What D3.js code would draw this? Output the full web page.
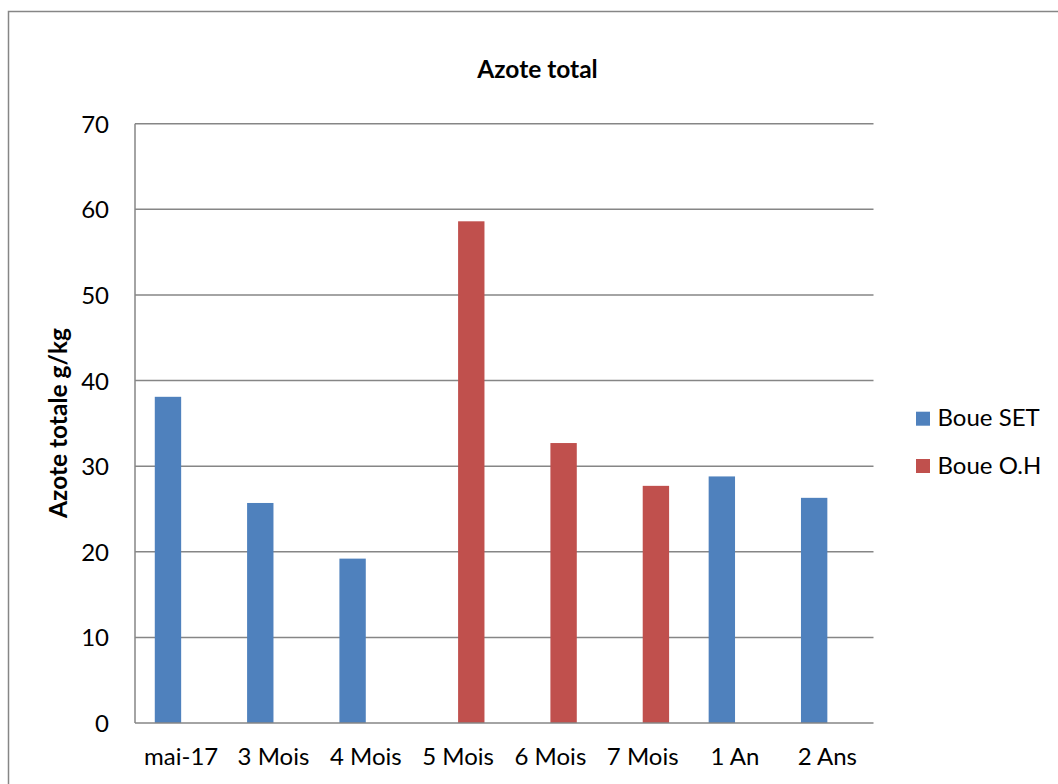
<!DOCTYPE html>
<html>
<head>
<meta charset="utf-8">
<script src="https://cdn.jsdelivr.net/npm/d3@7"></script>
<style>
  html, body { margin: 0; padding: 0; background: #ffffff; }
  svg { display: block; }
  text { font-family: Lato, "Open Sans", sans-serif; fill: #000; }
</style>
</head>
<body>
<script>
// ---- data ----
const categories = ["mai-17", "3 Mois", "4 Mois", "5 Mois", "6 Mois", "7 Mois", "1 An", "2 Ans"];
const seriesNames = ["Boue SET", "Boue O.H"];
const bouesSET = [38.1, 25.7, 19.2, null, null, null, 28.8, 26.3];
const bouesOH  = [null, null, null, 58.6, 32.7, 27.7, null, null];
const yTicks = [0, 10, 20, 30, 40, 50, 60, 70];
const chartTitle = "Azote total";
const yAxisTitle = "Azote totale g/kg";
const colors = ["#4F81BD", "#C0504D"];

const W = 1058, H = 784;
const svg = d3.select("body").append("svg").attr("width", W).attr("height", H);

// outer chart border
svg.append("rect")
  .attr("x", 8.5).attr("y", 11.5)
  .attr("width", 1100).attr("height", 900)
  .attr("fill", "none").attr("stroke", "#868686").attr("stroke-width", 1.5);

const plot = { left: 135, right: 873.5, top: 123.7, bottom: 723 };

const x = d3.scaleBand().domain(categories).range([plot.left, plot.right]).paddingInner(0).paddingOuter(0);
const xs = d3.scaleBand().domain(seriesNames).range([0, x.bandwidth()]).paddingInner(0).paddingOuter(0.75);
const y = d3.scaleLinear().domain([0, 70]).range([plot.bottom, plot.top]);

// gridlines
svg.append("g").selectAll("line").data(yTicks.filter(d => d > 0)).join("line")
  .attr("x1", plot.left).attr("x2", plot.right)
  .attr("y1", d => y(d)).attr("y2", d => y(d))
  .attr("stroke", "#868686").attr("stroke-width", 1.5);

// bars
const seriesData = [bouesSET, bouesOH];
seriesData.forEach((vals, si) => {
  svg.append("g").selectAll("rect")
    .data(categories.map((c, i) => ({ c, v: vals[i] })).filter(d => d.v != null))
    .join("rect")
    .attr("x", d => x(d.c) + xs(seriesNames[si]))
    .attr("width", xs.bandwidth())
    .attr("y", d => y(d.v))
    .attr("height", d => y(0) - y(d.v))
    .attr("fill", colors[si]);
});

// axes lines
svg.append("line").attr("x1", plot.left).attr("x2", plot.left)
  .attr("y1", plot.top).attr("y2", plot.bottom)
  .attr("stroke", "#868686").attr("stroke-width", 1.5);
svg.append("line").attr("x1", plot.left).attr("x2", plot.right)
  .attr("y1", plot.bottom).attr("y2", plot.bottom)
  .attr("stroke", "#868686").attr("stroke-width", 1.5);

// y tick labels
svg.append("g").selectAll("text").data(yTicks).join("text")
  .attr("x", 109).attr("y", d => y(d) + 9)
  .attr("text-anchor", "end")
  .style("font-size", "24px")
  .text(d => d);

// x tick labels
svg.append("g").selectAll("text").data(categories).join("text")
  .attr("x", d => x(d) + x.bandwidth() / 2).attr("y", 765)
  .attr("text-anchor", "middle")
  .style("font-size", "24px")
  .text(d => d);

// title
svg.append("text").attr("x", 537.5).attr("y", 77.5)
  .attr("text-anchor", "middle")
  .style("font-size", "24.5px").style("font-weight", "bold")
  .text(chartTitle);

// y-axis title
svg.append("text")
  .attr("transform", "translate(67,423) rotate(-90)")
  .attr("text-anchor", "middle")
  .style("font-size", "24.5px").style("font-weight", "bold")
  .text(yAxisTitle);

// legend
const legendY = [418.7, 466];
seriesNames.forEach((s, i) => {
  svg.append("rect").attr("x", 916).attr("y", legendY[i] - 7)
    .attr("width", 14).attr("height", 14).attr("fill", colors[i]);
  svg.append("text").attr("x", 937.5).attr("y", legendY[i] + 7.5)
    .style("font-size", "24px").text(s);
});
</script>
</body>
</html>
